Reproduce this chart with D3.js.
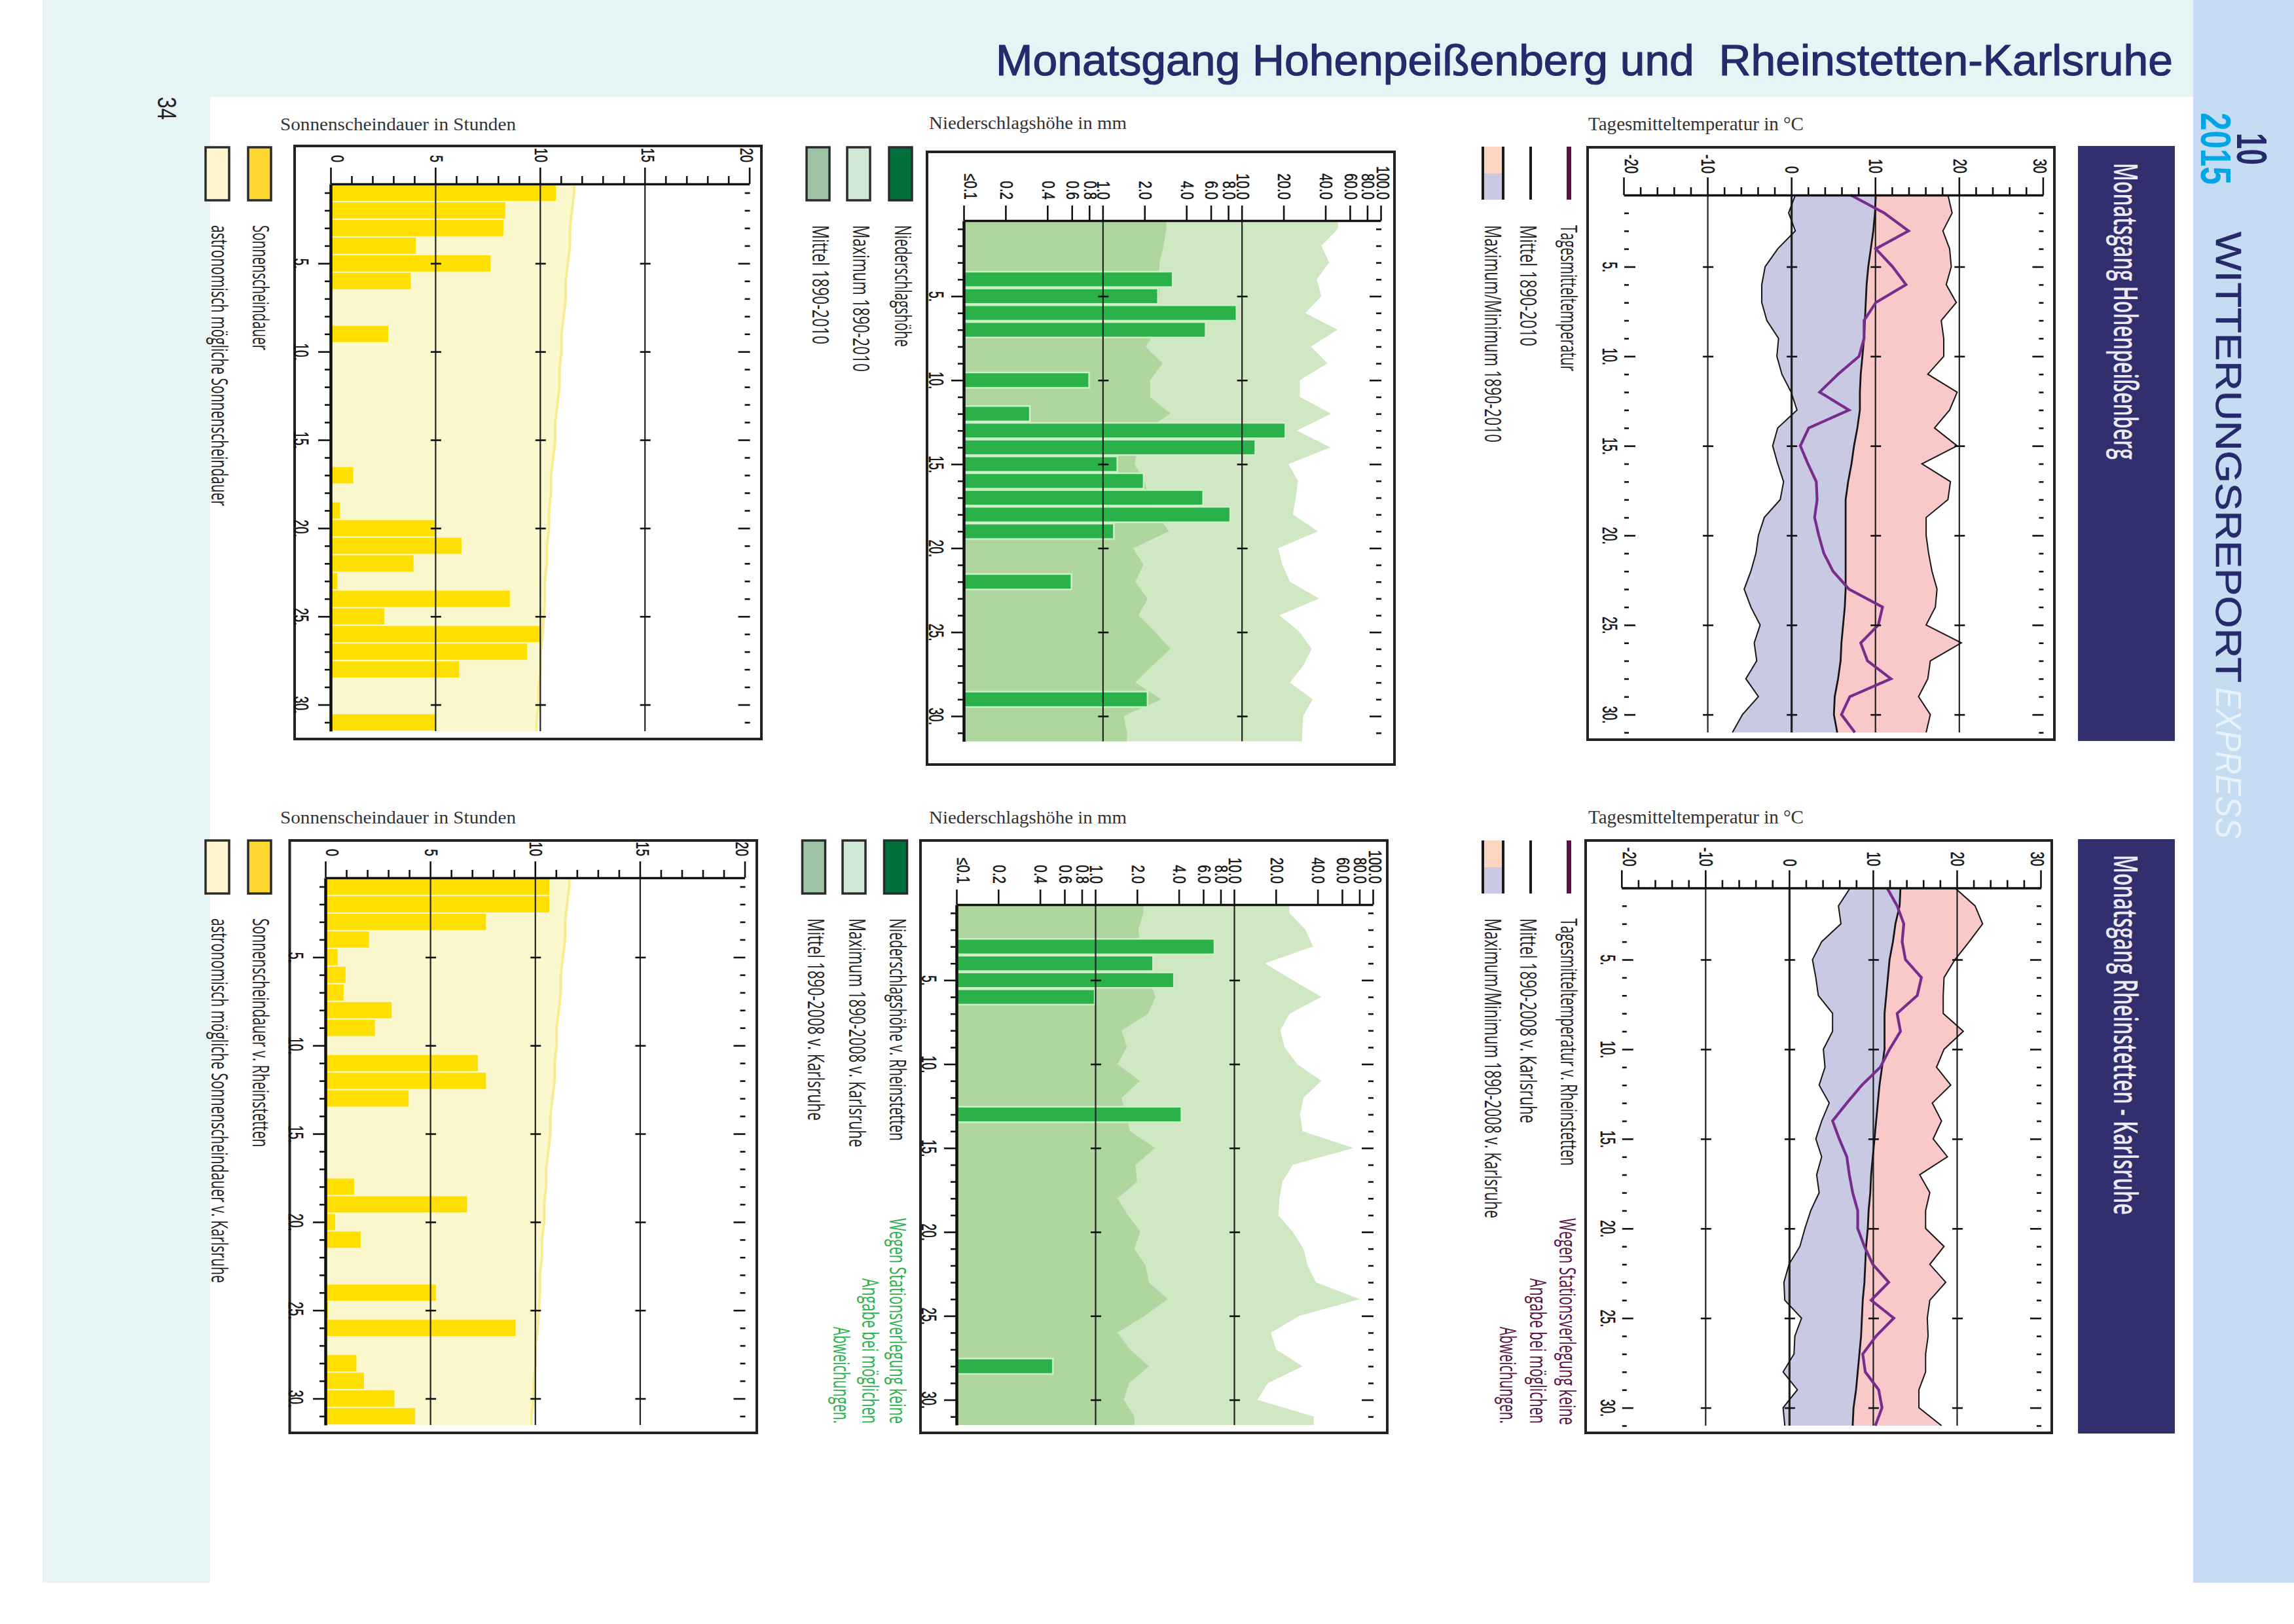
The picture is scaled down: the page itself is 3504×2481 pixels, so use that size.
<!DOCTYPE html>
<html>
<head>
<meta charset="utf-8">
<script src="https://d3js.org/d3.v7.min.js"></script>
<style>
body {margin: 0; background: #fff;}
svg {display: block;}
.tk line {stroke: #111; stroke-width: 2.6;}
.tk .domain {stroke: #111; stroke-width: 3.5;}
.grid line {stroke: #222; stroke-width: 2.2;}
.grid .domain {display: none;}
</style>
</head>
<body>
<div id="page"></div>
<script>
var days = d3.range(1, 32);
var majorDays = [5, 10, 15, 20, 25, 30];
var minorDays = days.filter(function(d) {return d % 5 != 0;});

// Temperatur
var tempTicks = [-20, -10, 0, 10, 20, 30];
var tempMinor = [-18, -16, -14, -12, -8, -6, -4, -2, 2, 4, 6, 8, 12, 14, 16, 18, 22, 24, 26, 28];
var tempGrid = [-10, 0, 10, 20];

var hoMax = [18.6, 19.1, 18.0, 18.8, 19.0, 18.4, 19.6, 17.8, 18.1, 18.1, 16.2, 19.7, 18.8, 17.0, 19.7, 15.5, 18.9, 18.6, 16.0, 16.0, 16.3, 16.7, 17.3, 17.1, 16.0, 20.2, 16.5, 16.2, 15.1, 16.5, 16.0];
var hoMin = [0.4, -0.4, 0.4, -1.7, -3.2, -3.6, -3.6, -3.0, -1.6, -1.8, -1.2, -0.1, 0.6, -1.7, -2.3, -1.7, -1.0, -1.4, -3.3, -4.0, -4.3, -4.9, -5.7, -4.9, -3.8, -4.5, -4.2, -5.5, -4.0, -5.9, -7.1];
var hoMean = [10.0, 9.9, 9.7, 9.4, 9.1, 8.9, 8.8, 8.7, 8.6, 8.4, 8.2, 8.1, 8.1, 7.8, 7.4, 7.1, 6.7, 6.4, 6.4, 6.4, 6.4, 6.4, 6.4, 6.3, 6.1, 5.9, 5.8, 5.5, 5.1, 5.0, 5.4];
var hoTemp = [7.0, 11.0, 13.9, 10.0, 12.0, 13.6, 10.0, 8.6, 8.6, 8.0, 5.5, 3.3, 6.8, 2.0, 1.0, 1.9, 2.9, 3.0, 2.7, 3.2, 3.8, 4.9, 6.8, 10.8, 10.3, 8.2, 9.0, 11.8, 6.9, 5.9, 7.5];

var kaMax = [19.7, 22.1, 23.0, 21.4, 19.7, 18.4, 18.3, 18.3, 20.7, 18.4, 17.5, 19.2, 17.0, 18.1, 17.1, 18.8, 15.5, 16.7, 16.2, 16.2, 18.4, 16.7, 18.6, 16.7, 16.4, 16.5, 16.2, 16.2, 15.4, 15.4, 18.1];
var kaMin = [7.2, 5.8, 6.1, 3.8, 2.7, 3.1, 3.4, 5.1, 5.1, 4.0, 4.2, 3.5, 4.7, 3.8, 3.1, 3.8, 3.2, 3.5, 2.5, 1.8, 1.2, -0.1, -0.7, -0.6, 1.4, 0.6, 0.5, -0.8, 0.9, -0.8, -0.6];
var kaMean = [13.2, 13.1, 12.6, 12.3, 11.9, 11.7, 11.5, 11.3, 11.3, 11.3, 11.0, 10.7, 10.5, 10.3, 10.1, 9.9, 9.7, 9.6, 9.4, 9.3, 9.1, 9.0, 8.9, 8.7, 8.6, 8.5, 8.3, 8.1, 7.9, 7.6, 7.5];
var rhTemp = [11.6, 12.8, 13.6, 13.4, 13.8, 15.7, 15.2, 12.8, 13.2, 11.9, 10.8, 8.6, 6.8, 5.1, 5.9, 6.8, 7.1, 7.5, 8.1, 8.1, 8.9, 9.9, 11.8, 9.7, 12.4, 10.3, 8.7, 9.0, 10.6, 11.0, 10.2];

// Niederschlag
var rainTicks = [0.1, 0.2, 0.4, 0.6, 0.8, 1, 2, 4, 6, 8, 10, 20, 40, 60, 80, 100];
var rainLabels = ["≤0.1", "0.2", "0.4", "0.6", "0.8", "1.0", "2.0", "4.0", "6.0", "8.0", "10.0", "20.0", "40.0", "60.0", "80.0", "100.0"];
var rainGrid = [1, 10];

var hoRainMax = [48.7, 37.0, 42.1, 34.2, 37.0, 28.4, 48.4, 31.1, 41.0, 25.9, 25.9, 43.6, 24.7, 43.0, 21.5, 25.1, 24.2, 23.1, 35.0, 18.1, 19.4, 22.0, 35.7, 18.5, 25.9, 31.5, 27.4, 22.0, 32.0, 27.4, 26.9];
var hoRainMean = [2.84, 2.71, 2.53, 2.53, 2.53, 2.28, 2.44, 2.01, 2.67, 2.17, 2.17, 3.04, 1.98, 1.79, 1.67, 1.98, 2.12, 2.44, 2.96, 1.64, 1.94, 1.70, 2.08, 1.79, 2.36, 3.04, 2.25, 1.70, 2.61, 1.40, 1.48];
var hoRain = [0, 0, 0, 3.15, 2.47, 9.08, 5.44, 0, 0, 0.79, 0, 0.296, 20.4, 12.4, 1.26, 1.95, 5.22, 8.18, 1.19, 0, 0, 0.59, 0, 0, 0, 0, 0, 0, 2.08, 0, 0];

var kaRainMax = [24.8, 32.4, 36.6, 16.5, 26.2, 42.1, 24.8, 21.3, 22.9, 28.2, 42.1, 31.3, 29.6, 30.8, 71.8, 26.2, 22.1, 21.0, 20.6, 26.2, 31.3, 33.5, 38.5, 79.6, 29.2, 18.2, 19.9, 30.8, 17.3, 14.6, 37.2];
var kaRainMean = [2.20, 2.02, 2.09, 2.24, 2.41, 2.69, 2.37, 1.53, 1.67, 1.43, 2.07, 1.53, 1.64, 1.76, 2.67, 1.93, 1.98, 1.43, 1.70, 2.09, 1.89, 2.28, 2.41, 3.29, 2.24, 1.43, 1.76, 2.41, 1.73, 1.59, 1.89];
var rhRain = [0, 0, 7.14, 2.58, 3.65, 0.98, 0, 0, 0, 0, 0, 0, 4.13, 0, 0, 0, 0, 0, 0, 0, 0, 0, 0, 0, 0, 0, 0, 0.49, 0, 0, 0];

// Sonnenschein
var sunTicks = [0, 5, 10, 15, 20];
var sunMinor = [1, 2, 3, 4, 6, 7, 8, 9, 11, 12, 13, 14, 16, 17, 18, 19];
var sunGrid = [5, 10, 15];

var sunPossible = [11.6, 11.5, 11.4, 11.4, 11.3, 11.2, 11.2, 11.1, 11.0, 11.0, 10.9, 10.9, 10.8, 10.7, 10.7, 10.6, 10.5, 10.5, 10.4, 10.4, 10.3, 10.3, 10.2, 10.2, 10.15, 10.1, 10.0, 10.0, 9.9, 9.9, 9.8];
var hoSun = [10.73, 8.31, 8.22, 4.04, 7.61, 3.80, 0, 0, 2.72, 0, 0, 0, 0, 0, 0, 0, 1.05, 0, 0.42, 4.95, 6.22, 3.93, 0.29, 8.53, 2.53, 10.0, 9.36, 6.11, 0, 0, 4.95];
var rhSun = [10.65, 10.65, 7.63, 2.05, 0.55, 0.93, 0.84, 3.13, 2.33, 0, 7.24, 7.63, 3.94, 0, 0, 0, 0, 1.34, 6.73, 0.44, 1.65, 0, 0, 5.24, 0.1, 9.04, 0, 1.45, 1.81, 3.26, 4.25];

var SANS = "'Liberation Sans', sans-serif",
  COND = "'Open Sans', sans-serif",
  SERIF = "'Liberation Serif', serif",
  NAVY = '#262a6b';

var svg = d3.select('#page')
  .append('svg')
    .attr('width', 3504)
    .attr('height', 2481);

// page furniture
function block(x0, y0, x1, y1, fill) {
  svg.append('rect')
    .attr('x', x0).attr('y', y0)
    .attr('width', x1 - x0).attr('height', y1 - y0)
    .attr('fill', fill);
}

// rotated label, reads top to bottom; px is the baseline, py where it starts
function vtext(str, px, py, len, size, fill, opts) {
  opts = opts || {};
  return svg.append('text')
    .attr('transform', 'translate(' + px + ',' + py + ') rotate(90)')
    .attr('textLength', len)
    .attr('lengthAdjust', 'spacingAndGlyphs')
    .attr('font-family', opts.family || COND)
    .attr('font-size', size)
    .attr('font-weight', opts.weight || 400)
    .attr('font-style', opts.style || 'normal')
    .attr('fill', fill)
    .text(str);
}

function htext(str, x, y, len, size, fill, family) {
  return svg.append('text')
    .attr('x', x).attr('y', y)
    .attr('textLength', len)
    .attr('lengthAdjust', 'spacingAndGlyphs')
    .attr('font-family', family)
    .attr('font-size', size)
    .attr('fill', fill)
    .text(str);
}

function swatch(x0, y0, x1, y1, fill) {
  svg.append('rect')
    .attr('x', x0).attr('y', y0)
    .attr('width', x1 - x0).attr('height', y1 - y0)
    .attr('fill', fill)
    .attr('stroke', '#2b2b2b')
    .attr('stroke-width', 3.5);
}

function frame(b) {
  svg.append('rect')
    .attr('x', b[0]).attr('y', b[1])
    .attr('width', b[2] - b[0]).attr('height', b[3] - b[1])
    .attr('fill', '#fff')
    .attr('stroke', '#222')
    .attr('stroke-width', 4);
}

// squeeze rotated tick labels, the print is narrow along the reading direction
function squeeze(sel, size, factor) {
  sel.attr('font-size', size).attr('font-family', SANS);
  sel.selectAll('text').each(function() {
    var t = d3.select(this), x = +t.attr('x') || 0;
    t.attr('x', x / factor)
      .attr('transform', 'scale(' + factor + ',1)')
      .attr('fill', '#111')
      .attr('stroke', '#111')
      .attr('stroke-width', 0.5);
  });
}

// end labels sit inside the ticks they belong to
function nudge(sel, value, dy) {
  sel.selectAll('.tick').filter(function(d) {return d === value;}).select('text').attr('y', dy);
}

function dayDashes(g, x, vals, offset, size) {
  g.append('g')
    .attr('class', 'tk')
    .attr('transform', 'translate(0,' + offset + ')')
    .call(d3.axisBottom(x).tickValues(vals).tickSize(size).tickSizeOuter(0).tickFormat(''))
    .select('.domain').remove();
}

function dayLabels(g, x, offset, pad) {
  var a = g.append('g')
    .attr('transform', 'translate(0,' + offset + ')')
    .call(d3.axisBottom(x).tickValues(majorDays).tickSize(0).tickPadding(pad)
      .tickFormat(function(d) {return d + '.';}));
  a.select('.domain').remove();
  squeeze(a, 31, 0.62);
}

function gridLines(g, x, y, vals) {
  g.append('g')
    .attr('class', 'grid')
    .call(d3.axisLeft(y).tickValues(vals).tickSize(-x.range()[1]).tickFormat(''));
}

// areas of the day-centred panels run on to the frame of the plot
function edge(values) {
  var pts = values.map(function(v, i) {return {d: days[i], v: v};});
  pts.unshift({d: 0.5, v: values[0]});
  pts.push({d: 31.5, v: values[30]});
  return pts;
}

function drawTemp(p, maxS, minS, meanS, dayS) {
  frame(p.box);
  var g = svg.append('g').attr('transform', 'translate(' + p.x0 + ',' + p.y0 + ') rotate(90)');
  var x = d3.scaleLinear().domain([1, 31]).range([0, p.len]);
  var y = d3.scaleLinear().domain([-20, 30]).range([0, p.x0 - p.x1]);

  var band = function(a, b) {
    return d3.area()
      .x(function(d, i) {return x(days[i]);})
      .y0(function(d, i) {return y(a[i]);})
      .y1(function(d, i) {return y(b[i]);})(days);
  };
  var line = function(s) {
    return d3.line()
      .x(function(d, i) {return x(days[i]);})
      .y(function(d) {return y(d);})(s);
  };

  g.append('path').attr('d', band(meanS, maxS)).attr('fill', '#f9c8c9');
  g.append('path').attr('d', band(minS, meanS)).attr('fill', '#c9c9e4');
  gridLines(g, x, y, tempGrid);
  g.append('g').attr('class', 'grid')
    .call(d3.axisLeft(y).tickValues([0]).tickSize(-p.len).tickFormat(''))
    .selectAll('line').style('stroke-width', 3.2);

  [maxS, minS, meanS].forEach(function(s) {
    g.append('path').attr('d', line(s)).attr('fill', 'none').attr('stroke', '#161616')
      .attr('stroke-width', s === meanS ? 2.8 : 2);
  });
  g.append('path').attr('d', line(dayS)).attr('fill', 'none').attr('stroke', '#772d8c').attr('stroke-width', 4.2);

  dayDashes(g, x, minorDays, y(-20) - 7, 7);
  dayDashes(g, x, majorDays, y(-20) - 17, 17);
  dayDashes(g, x, minorDays, y(30), 7);
  dayDashes(g, x, majorDays, y(30), 17);
  tempGrid.forEach(function(v) {dayDashes(g, x, majorDays, y(v) - 8, 16);});
  dayLabels(g, x, y(-20), 11);

  var minor = g.append('g').attr('class', 'tk')
    .call(d3.axisLeft(y).tickValues(tempMinor).tickSize(12).tickSizeOuter(0).tickFormat(''));
  minor.select('.domain').remove();
  var major = g.append('g').attr('class', 'tk')
    .call(d3.axisLeft(y).tickValues(tempTicks).tickSize(27).tickSizeOuter(0).tickPadding(6)
      .tickFormat(function(d) {return String(d);}));
  squeeze(major, 29, 0.69);
  nudge(major, -20, -11);
  nudge(major, 30, 6);
}

function drawRain(p, maxS, meanS, barS) {
  frame(p.box);
  var g = svg.append('g').attr('transform', 'translate(' + p.x0 + ',' + p.y0 + ') rotate(90)');
  var x = d3.scaleLinear().domain([0.5, 31.5]).range([0, p.len]);
  var y = d3.scaleLog().domain([0.1, 100]).range([0, p.x0 - p.x1]);

  var area = d3.area()
    .x(function(d) {return x(d.d);})
    .y0(y(0.1))
    .y1(function(d) {return y(d.v);});

  g.append('path').attr('d', area(edge(maxS))).attr('fill', '#cfe8c3');
  g.append('path').attr('d', area(edge(meanS))).attr('fill', '#aed69e');

  var step = x(2) - x(1);
  g.selectAll('.bar')
    .data(barS.map(function(v, i) {return {d: days[i], v: v};}).filter(function(b) {return b.v > 0;}))
    .enter().append('rect')
    .attr('class', 'bar')
    .attr('x', function(d) {return x(d.d) - step * 0.46;})
    .attr('width', step * 0.92)
    .attr('y', function(d) {return y(d.v);})
    .attr('height', function(d) {return y(0.1) - y(d.v);})
    .attr('fill', '#2bb14a')
    .attr('stroke', '#cdf0c6')
    .attr('stroke-width', 2.5);

  gridLines(g, x, y, rainGrid);

  dayDashes(g, x, minorDays, y(100), 8);
  dayDashes(g, x, majorDays, y(100), 18);
  rainGrid.forEach(function(v) {dayDashes(g, x, majorDays, y(v) - 8, 16);});
  dayLabels(g, x, 0, 32);

  var dayMinor = g.append('g').attr('class', 'tk')
    .call(d3.axisBottom(x).tickValues(minorDays).tickSize(10).tickSizeOuter(0).tickFormat(''));
  dayMinor.select('.domain').style('stroke-width', 4.5);
  dayDashes(g, x, majorDays, 0, 20);

  var major = g.append('g').attr('class', 'tk')
    .call(d3.axisLeft(y).tickValues(rainTicks).tickSize(23).tickSizeOuter(0).tickPadding(9)
      .tickFormat(function(d, i) {return rainLabels[i];}));
  squeeze(major, 27, 0.76);
  nudge(major, 0.1, -9);
  nudge(major, 100, -2);
}

function drawSun(p, possible, barS) {
  frame(p.box);
  var g = svg.append('g').attr('transform', 'translate(' + p.x0 + ',' + p.y0 + ') rotate(90)');
  var x = d3.scaleLinear().domain([0.5, 31.5]).range([0, p.len]);
  var y = d3.scaleLinear().domain([0, 20]).range([0, p.x0 - p.x1]);

  var area = d3.area()
    .x(function(d) {return x(d.d);})
    .y0(y(0))
    .y1(function(d) {return y(d.v);});
  var line = d3.line()
    .x(function(d) {return x(d.d);})
    .y(function(d) {return y(d.v);});

  g.append('path').attr('d', area(edge(possible))).attr('fill', '#fcf8cd');
  g.append('path').attr('d', line(edge(possible))).attr('fill', 'none').attr('stroke', '#f9ec90').attr('stroke-width', 4);

  var step = x(2) - x(1);
  g.selectAll('.bar')
    .data(barS.map(function(v, i) {return {d: days[i], v: v};}).filter(function(b) {return b.v > 0;}))
    .enter().append('rect')
    .attr('class', 'bar')
    .attr('x', function(d) {return x(d.d) - step * 0.46;})
    .attr('width', step * 0.92)
    .attr('y', function(d) {return y(d.v);})
    .attr('height', function(d) {return y(0) - y(d.v);})
    .attr('fill', '#ffdf00');

  gridLines(g, x, y, sunGrid);

  dayDashes(g, x, minorDays, y(20), 8);
  dayDashes(g, x, majorDays, y(20), 18);
  sunGrid.forEach(function(v) {dayDashes(g, x, majorDays, y(v) - 8, 16);});
  dayLabels(g, x, 0, 35);

  var dayMinor = g.append('g').attr('class', 'tk')
    .call(d3.axisBottom(x).tickValues(minorDays).tickSize(10).tickSizeOuter(0).tickFormat(''));
  dayMinor.select('.domain').style('stroke-width', 4.5);
  dayDashes(g, x, majorDays, 0, 20);

  var minor = g.append('g').attr('class', 'tk')
    .call(d3.axisLeft(y).tickValues(sunMinor).tickSize(12).tickSizeOuter(0).tickFormat(''));
  minor.select('.domain').remove();
  var major = g.append('g').attr('class', 'tk')
    .call(d3.axisLeft(y).tickValues(sunTicks).tickSize(25).tickSizeOuter(0).tickPadding(8));
  squeeze(major, 27, 0.73);
  nudge(major, 0, -9);
  nudge(major, 15, -3);
  nudge(major, 20, 5);
}

function tempLegend(top, start, l1, l2, l3) {
  block(2393, top, 2400, top + 81, '#5a0f46');
  block(2336, top, 2340, top + 81, '#1a1a1a');
  block(2266, top, 2295, top + 41, '#fcd6c3');
  block(2266, top + 41, 2295, top + 81, '#c9c9e4');
  block(2263, top, 2267, top + 81, '#1a1a1a');
  block(2294, top, 2298, top + 81, '#1a1a1a');
  vtext(l1[0], 2384, start, l1[1], 35, '#222');
  vtext(l2[0], 2322, start, l2[1], 35, '#222');
  vtext(l3[0], 2268, start, l3[1], 35, '#222');
}

function rainLegend(xs, top, start, l1, l2, l3, base) {
  swatch(xs[0], top, xs[0] + 35, top + 81, '#03703c');
  swatch(xs[1], top, xs[1] + 35, top + 81, '#cfe8d3');
  swatch(xs[2], top, xs[2] + 35, top + 81, '#9fc3a5');
  vtext(l1[0], base[0], start, l1[1], 35, '#222');
  vtext(l2[0], base[1], start, l2[1], 35, '#222');
  vtext(l3[0], base[2], start, l3[1], 35, '#222');
}

function sunLegend(top, start, l1, l2) {
  swatch(379, top, 414, top + 81, '#fdd72f');
  swatch(314, top, 350, top + 81, '#fff5d0');
  vtext(l1[0], 386, start, l1[1], 35, '#222');
  vtext(l2[0], 323, start, l2[1], 35, '#222');
}

// backgrounds
block(65, 0, 3350, 148, '#e6f4f5');
block(65, 0, 321, 2418, '#e6f4f5');
block(3350, 0, 3504, 2418, '#c5dcf2');
block(3174, 223, 3322, 1132, '#322f6e');
block(3174, 1282, 3322, 2190, '#322f6e');

htext('Monatsgang Hohenpeißenberg und\u00a0 Rheinstetten-Karlsruhe', 1521, 115, 1798, 67, NAVY, SANS)
  .attr('stroke', NAVY).attr('stroke-width', 1.2);
vtext('34', 241, 148, 35, 40, '#222', {family: SANS});

vtext('WITTERUNGSREPORT', 3385, 354, 689, 56, NAVY, {family: SANS}).attr('stroke', NAVY).attr('stroke-width', 0.6);
vtext('EXPRESS', 3385, 1050, 231, 56, '#e9f2fb', {family: SANS, style: 'italic'});
vtext('10', 3417, 203, 49, 64, NAVY, {family: SANS, weight: 700});
vtext('2015', 3362, 172, 110, 64, '#00a5e3', {family: SANS, weight: 700});

vtext('Monatsgang Hohenpeißenberg', 3229, 249, 453, 50, '#eceaf5', {weight: 600});
vtext('Monatsgang Rheinstetten - Karlsruhe', 3229, 1306, 550, 50, '#eceaf5', {weight: 600});

// headings
htext('Tagesmitteltemperatur in °C', 2426, 199, 329, 29, '#333', SERIF);
htext('Niederschlagshöhe in mm', 1419, 197, 302, 28, '#333', SERIF);
htext('Sonnenscheindauer in Stunden', 428, 199, 360, 28, '#333', SERIF);
htext('Tagesmitteltemperatur in °C', 2426, 1258, 329, 29, '#333', SERIF);
htext('Niederschlagshöhe in mm', 1419, 1258, 302, 28, '#333', SERIF);
htext('Sonnenscheindauer in Stunden', 428, 1258, 360, 28, '#333', SERIF);

// Hohenpeissenberg
drawTemp({box: [2425, 225, 3138, 1130], x0: 2481, x1: 3121.4, y0: 298, len: 821}, hoMax, hoMin, hoMean, hoTemp);
drawRain({box: [1416, 232, 2130, 1168], x0: 1473, x1: 2110, y0: 337, len: 795.5}, hoRainMax, hoRainMean, hoRain);
drawSun({box: [450, 223, 1163, 1129], x0: 506, x1: 1145.6, y0: 281, len: 836}, sunPossible, hoSun);

tempLegend(224, 344, ['Tagesmitteltemperatur', 223], ['Mittel 1890-2010', 185], ['Maximum/Minimum 1890-2010', 332]);
rainLegend([1358, 1294, 1232], 225, 344, ['Niederschlagshöhe', 186], ['Maximum 1890-2010', 224], ['Mittel 1890-2010', 182], [1367, 1303, 1241]);
sunLegend(225, 344, ['Sonnenscheindauer', 191], ['astronomisch mögliche Sonnenscheindauer', 429]);

// Rheinstetten - Karlsruhe
drawTemp({box: [2422, 1284, 3134, 2189], x0: 2477.8, x1: 3118, y0: 1356.5, len: 821.5}, kaMax, kaMin, kaMean, rhTemp);
drawRain({box: [1406, 1284, 2119, 2189], x0: 1462, x1: 2098, y0: 1382, len: 795}, kaRainMax, kaRainMean, rhRain);
drawSun({box: [442.5, 1284, 1156, 2189], x0: 498, x1: 1138.5, y0: 1341, len: 836}, sunPossible, rhSun);

tempLegend(1284, 1403, ['Tagesmitteltemperatur v. Rheinstetten', 378], ['Mittel 1890-2008 v. Karlsruhe', 313], ['Maximum/Minimum 1890-2008 v. Karlsruhe', 458]);
rainLegend([1350.5, 1287, 1225.5], 1284, 1403, ['Niederschlagshöhe v. Rheinstetten', 340], ['Maximum 1890-2008 v. Karlsruhe', 349.5], ['Mittel 1890-2008 v. Karlsruhe', 309], [1359, 1297, 1234]);
sunLegend(1284, 1403, ['Sonnenscheindauer v. Rheinstetten', 349.5], ['astronomisch mögliche Sonnenscheindauer v. Karlsruhe', 557]);

// Stationsverlegung
vtext('Wegen Stationsverlegung keine', 2382, 1861, 316, 35, '#5a0f46');
vtext('Angabe bei möglichen', 2337, 1953, 222, 35, '#5a0f46');
vtext('Abweichungen.', 2291, 2027, 148, 35, '#5a0f46');
vtext('Wegen Stationsverlegung keine', 1359, 1861, 314, 35, '#2bb14a');
vtext('Angabe bei möglichen', 1317, 1953, 222, 35, '#2bb14a');
vtext('Abweichungen.', 1273, 2027, 148, 35, '#2bb14a');
</script>
</body>
</html>
